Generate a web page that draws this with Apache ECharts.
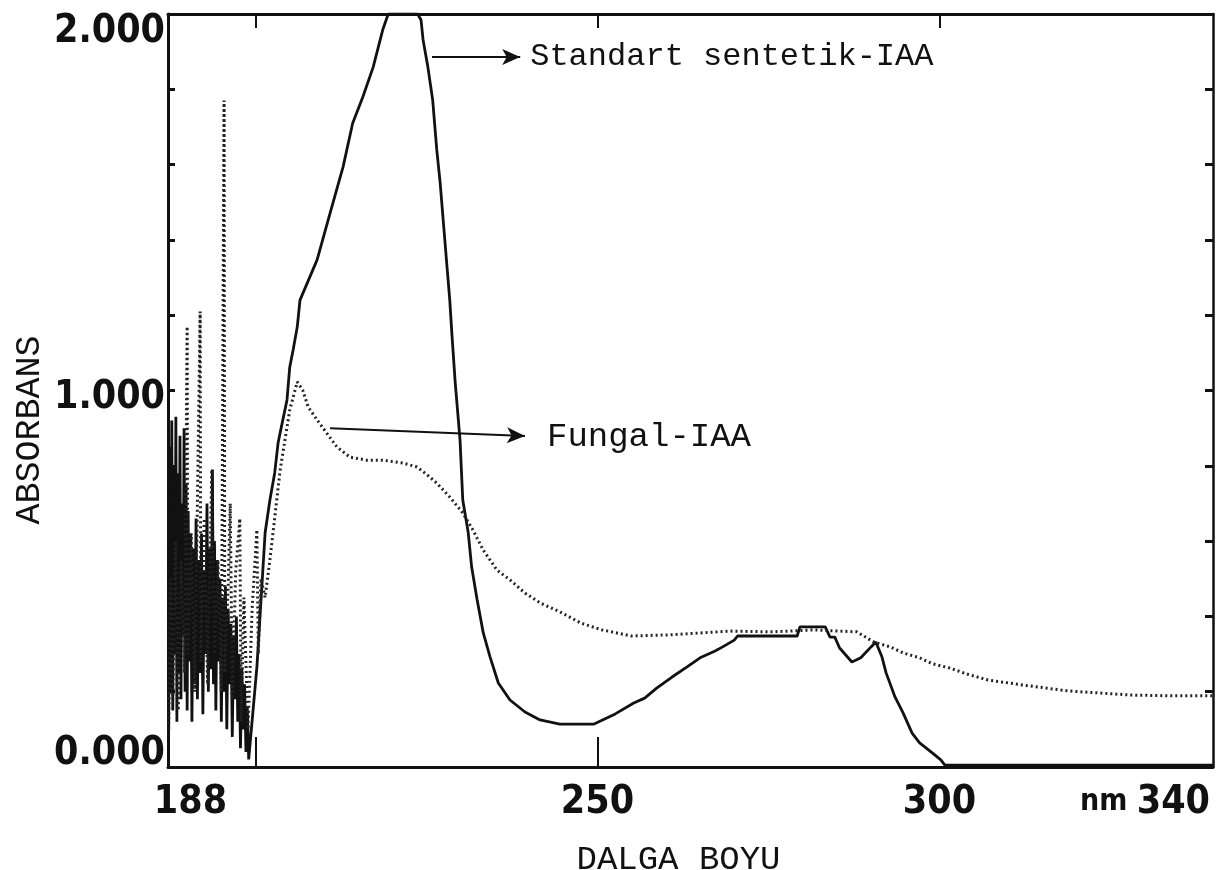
<!DOCTYPE html>
<html>
<head>
<meta charset="utf-8">
<script src="https://cdn.jsdelivr.net/npm/echarts@6/dist/echarts.min.js"></script>
<style>
html,body{margin:0;padding:0;background:#fff;}
#chart{width:1227px;height:870px;}
</style>
</head>
<body>
<div id="chart"></div>
<script>
// ---- data (wavelength nm, absorbance) ----
const standardNoise = [
  [187.3,0.10],[187.45,0.85],[187.6,0.20],[187.75,0.92],[187.9,0.15],[188.05,0.80],[188.2,0.30],[188.35,0.93],
  [188.5,0.12],[188.65,0.78],[188.8,0.25],[188.95,0.88],[189.1,0.18],[189.25,0.70],[189.4,0.35],[189.55,0.90],
  [189.7,0.20],[189.85,0.75],[190.0,0.15],[190.15,0.68],[190.3,0.28],[190.5,0.62],[190.7,0.12],[190.9,0.58],
  [191.1,0.22],[191.3,0.66],[191.5,0.18],[191.7,0.55],[191.9,0.25],[192.1,0.62],[192.3,0.14],[192.5,0.52],
  [192.7,0.30],[192.9,0.70],[193.1,0.20],[193.3,0.58],[193.5,0.26],[193.7,0.79],[193.85,0.22],[194.0,0.60],
  [194.2,0.15],[194.4,0.55],[194.6,0.28],[194.8,0.50],[195.0,0.12],[195.2,0.45],[195.4,0.20],[195.6,0.48],
  [195.8,0.10],[196.0,0.42],[196.2,0.22],[196.4,0.38],[196.6,0.08],[196.8,0.35],[197.0,0.18],[197.2,0.40],
  [197.4,0.12],[197.6,0.30],[197.8,0.05],[198.0,0.26],[198.2,0.10],[198.4,0.22],[198.6,0.04],[198.8,0.16],
  [199.0,0.02],[199.2,0.02]
];
const standardCurve = [
  [200.2,0.266],[200.65,0.398],[201.4,0.622],[202.1,0.709],[202.8,0.781],[203.3,0.861],[203.9,0.914],
  [204.6,0.975],[205.0,1.062],[205.5,1.108],[206.1,1.169],[206.5,1.240],[209.0,1.347],[210.9,1.471],
  [212.8,1.594],[214.2,1.710],[215.7,1.780],[217.2,1.859],[218.6,1.958],[219.4,2.0],[223.7,2.0],
  [224.2,1.984],[224.5,1.931],[225.2,1.859],[225.9,1.772],[226.5,1.639],[227.0,1.551],[227.4,1.461],
  [228.0,1.328],[228.4,1.240],[228.7,1.153],[229.2,1.020],[229.9,0.869],[230.3,0.709],[231.1,0.622],
  [231.6,0.531],[232.4,0.444],[233.3,0.356],[234.3,0.292],[235.5,0.223],[237.2,0.178],[239.4,0.146],
  [241.6,0.125],[244.5,0.114],[249.5,0.114],[252.6,0.141],[255.3,0.170],[256.9,0.183],[258.7,0.210],
  [260.9,0.239],[263.1,0.266],[265.0,0.290],[267.2,0.308],[268.3,0.319],[270.0,0.337],[270.5,0.348],
  [279.2,0.348],[279.6,0.372],[283.3,0.372],[284.0,0.345],[284.7,0.345],[285.4,0.316],[287.2,0.279],
  [288.5,0.290],[290.0,0.319],[290.7,0.332],[291.6,0.292],[292.2,0.250],[293.5,0.186],[294.7,0.143],
  [296.0,0.090],[297.1,0.064],[299.0,0.037],[300.2,0.019],[300.8,0.005],[308.8,0.005],[323.5,0.005],[340.0,0.005]
];
const fungalNoise = [
  [187.3,0.10],[187.6,0.50],[187.9,0.18],[188.3,0.60],[188.7,0.15],[189.1,0.55],[189.6,0.25],[190.0,1.17],
  [190.1,0.30],[190.6,0.62],[191.1,0.20],[191.5,0.70],[191.9,1.21],[192.0,0.28],[192.5,0.66],[193.0,0.22],
  [193.6,0.79],[194.0,0.30],[194.5,0.55],[195.0,0.20],[195.4,1.77],[195.5,0.25],[196.0,0.48],[196.3,0.70],
  [196.6,0.18],[197.1,0.52],[197.7,0.66],[197.9,0.12],[198.3,0.45],[198.9,0.10],[199.5,0.42],[200.2,0.63],
  [200.4,0.30],[200.8,0.50],[201.4,0.45]
];
const fungalCurve = [
  [202.1,0.55],[203.6,0.789],[205.0,0.948],[206.1,1.023],[206.9,1.001],[207.7,0.956],[209.0,0.922],
  [210.4,0.887],[211.9,0.850],[213.8,0.823],[216.3,0.815],[218.6,0.815],[221.6,0.807],[223.6,0.797],
  [225.1,0.776],[226.5,0.754],[228.4,0.717],[230.3,0.675],[231.8,0.629],[233.3,0.576],[235.3,0.523],
  [237.2,0.497],[239.4,0.462],[241.6,0.436],[244.5,0.412],[247.6,0.382],[250.7,0.364],[255.0,0.348],
  [260.6,0.351],[269.4,0.361],[275.5,0.359],[281.6,0.364],[287.9,0.359],[290.4,0.332],[292.8,0.319],
  [294.7,0.303],[297.1,0.290],[299.0,0.274],[301.5,0.263],[304.0,0.247],[307.1,0.231],[312.1,0.218],
  [318.8,0.202],[328.1,0.191],[334.3,0.189],[340.0,0.189]
];
const xTickValues = [200, 250, 300];
const xLabelValues = [188, 250, 300, 340];
const xLabelTexts = ['188', '250', '300', '340'];
const yLabelValues = [0, 1, 2];
const yLabelTexts = ['0.000', '1.000', '2.000'];
const annotationTexts = ['Standart sentetik-IAA', 'Fungal-IAA'];
const stdArrowFrom = [225.8, 1.886], stdArrowTo = [238.7, 1.886];
const fungArrowFrom = [210.9, 0.900], fungArrowTo = [239.4, 0.879];
const xTitle = 'DALGA BOYU', yTitle = 'ABSORBANS';

// ---- chart ----
const tickFont = "'Liberation Sans Narrow','DejaVu Sans Condensed','Liberation Sans',sans-serif";
const typeFont = "'Liberation Mono','DejaVu Sans Mono',monospace";
const ink = '#111';
const chart = echarts.init(document.getElementById('chart'), null, {renderer: 'canvas'});

function xLabelFmt(v) {
  const i = xLabelValues.indexOf(v);
  if (i < 0) return '';
  if (i === 0) return '{first|' + xLabelTexts[i] + '}';
  if (i === xLabelValues.length - 1) return '{u|nm }{last|' + xLabelTexts[i] + '}';
  return '{n|' + xLabelTexts[i] + '}';
}
function yLabelFmt(v) {
  const i = yLabelValues.findIndex(t => Math.abs(t - v) < 1e-9);
  if (i < 0) return '';
  if (i === 0) return '{lo|' + yLabelTexts[i] + '}';
  if (i === yLabelValues.length - 1) return '{hi|' + yLabelTexts[i] + '}';
  return '{n|' + yLabelTexts[i] + '}';
}
const numStyle = {fontFamily: tickFont, fontWeight: 'bold', fontSize: 39, color: ink};

chart.setOption({
  animation: false,
  backgroundColor: '#fff',
  grid: {left: 168, right: 14, top: 14, bottom: 103, containLabel: false, outerBoundsMode: 'none'},
  xAxis: [{
    type: 'value', min: 187.2, max: 340, position: 'bottom',
    name: xTitle, nameLocation: 'middle', nameGap: 76,
    nameTextStyle: {fontFamily: typeFont, fontSize: 34, color: ink, padding: [0, 24, 0, 0]},
    axisLine: {show: true, onZero: false, lineStyle: {color: ink, width: 3}},
    axisTick: {show: true, inside: true, length: 30, lineStyle: {color: ink, width: 2}, customValues: [200, 250]},
    axisLabel: {show: true, margin: 16, customValues: xLabelValues, formatter: xLabelFmt,
      rich: {
        n: numStyle,
        first: Object.assign({}, numStyle, {padding: [0, 0, 0, 34]}),
        last: Object.assign({}, numStyle, {padding: [0, 136, 0, 0]}),
        u: {fontFamily: tickFont, fontWeight: 'bold', fontSize: 30, color: ink}
      }},
    splitLine: {show: false}
  }, {
    type: 'value', min: 187.2, max: 340, position: 'top',
    axisLine: {show: true, onZero: false, lineStyle: {color: ink, width: 3}},
    axisTick: {show: true, inside: true, length: 14, lineStyle: {color: ink, width: 2}, customValues: xTickValues},
    axisLabel: {show: false}, splitLine: {show: false}
  }],
  yAxis: [{
    type: 'value', min: 0, max: 2, interval: 0.2, position: 'left',
    axisLine: {show: true, onZero: false, lineStyle: {color: ink, width: 3}},
    axisTick: {show: true, inside: true, length: 7, lineStyle: {color: ink, width: 3}},
    axisLabel: {show: true, margin: 3, formatter: yLabelFmt, showMinLabel: true, showMaxLabel: true,
      rich: {
        n: Object.assign({}, numStyle, {padding: [14, 0, 0, 0]}),
        lo: Object.assign({}, numStyle, {padding: [0, 0, 26, 0]}),
        hi: Object.assign({}, numStyle, {padding: [36, 0, 0, 0]})
      }},
    splitLine: {show: false}
  }, {
    type: 'value', min: 0, max: 2, interval: 0.2, position: 'right',
    axisLine: {show: true, onZero: false, lineStyle: {color: ink, width: 2.5}},
    axisTick: {show: true, inside: true, length: 8, lineStyle: {color: ink, width: 3}},
    axisLabel: {show: false}, splitLine: {show: false}
  }],
  graphic: [{
    type: 'text', x: 30, y: 430, rotation: Math.PI / 2,
    style: {text: yTitle, fontFamily: typeFont, fontSize: 35, fill: ink, align: 'center', verticalAlign: 'middle'}
  }],
  series: [{
    name: 'Standart sentetik-IAA', type: 'line', showSymbol: false, clip: true,
    data: standardNoise.concat(standardCurve),
    lineStyle: {color: ink, width: 2.8},
    markLine: {
      silent: true, symbol: ['none', 'arrow'], symbolSize: [12, 18],
      lineStyle: {color: ink, width: 2, type: 'solid'},
      label: {show: true, position: 'end', distance: 10, fontFamily: typeFont, fontSize: 32, color: ink},
      data: [
        [{coord: stdArrowFrom, label: {formatter: annotationTexts[0]}}, {coord: stdArrowTo}],
        [{coord: fungArrowFrom, label: {formatter: annotationTexts[1], fontSize: 34, distance: 22}}, {coord: fungArrowTo}]
      ]
    }
  }, {
    name: 'Fungal-IAA', type: 'line', showSymbol: false, clip: true,
    data: fungalNoise.concat(fungalCurve),
    lineStyle: {color: '#222', width: 3, type: [2, 3]}
  }]
});
</script>
</body>
</html>
